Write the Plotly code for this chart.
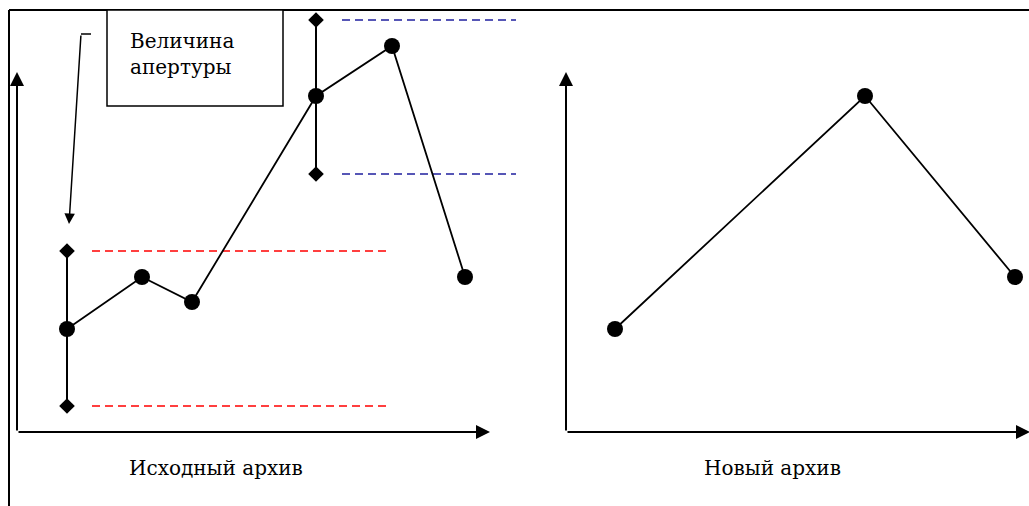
import plotly.graph_objects as go

# Schematic coordinates: x along the archive, y = signal value (up is larger)
src_x = [67, 142, 192, 316, 392, 465]
src_y = [177, 229, 204, 410, 460, 229]

new_x = [615, 865, 1015]
new_y = [177, 410, 229]

# aperture bounds around the points where the aperture is shown
ap_x = [67, 316]
ap_low = [100, 332]
ap_high = [255, 486]
ap_dash_from = [92, 342]
ap_dash_to = [390, 516]
ap_colors = ["#ff0000", "#1f1f9e"]

callout_text = "Величина<br>апертуры"
label_src = "Исходный архив"
label_new = "Новый архив"

W, H = 1029, 506
FONT = "DejaVu Serif"

fig = go.Figure()

# outer frame (top + left edges)
fig.add_shape(type="line", x0=9, x1=W, y0=496, y1=496, line={"color": "black", "width": 2})
fig.add_shape(type="line", x0=9, x1=9, y0=496, y1=0, line={"color": "black", "width": 2})

# callout box
fig.add_shape(type="rect", x0=107, x1=283, y0=400, y1=496,
              line={"color": "black", "width": 1.5}, fillcolor="white")

# aperture dashed bounds
for xa, lo, hi, x0, x1, col in zip(ap_x, ap_low, ap_high, ap_dash_from, ap_dash_to, ap_colors):
    for yv in (lo, hi):
        fig.add_trace(go.Scatter(
            x=[x0, x1], y=[yv, yv], mode="lines",
            line={"color": col, "width": 1.6, "dash": "8px,5px"},
            showlegend=False, hoverinfo="skip",
        ))
    fig.add_trace(go.Scatter(
        x=[xa, xa], y=[lo, hi], mode="lines+markers",
        line={"color": "black", "width": 2},
        marker={"symbol": "diamond", "size": 12, "color": "black"},
        showlegend=False, hoverinfo="skip",
    ))

# axes with arrows
axes = [
    # (x0, y0, x1, y1)
    (17, 74, 17, 434),
    (17, 74, 490, 74),
    (566, 74, 566, 434),
    (566, 74, 1030, 74),
]
for x0, y0, x1, y1 in axes:
    fig.add_annotation(
        x=x1, y=y1, ax=x0, ay=y0, xref="x", yref="y", axref="x", ayref="y",
        text="", showarrow=True, arrowhead=2, arrowsize=1.4, arrowwidth=2,
        arrowcolor="black",
    )

# series
for xs, ys in ((src_x, src_y), (new_x, new_y)):
    fig.add_trace(go.Scatter(
        x=xs, y=ys, mode="lines+markers",
        line={"color": "black", "width": 1.8},
        marker={"symbol": "circle", "size": 16, "color": "black"},
        showlegend=False, hoverinfo="skip",
    ))

# callout pointer
fig.add_shape(type="line", x0=91, x1=81, y0=472, y1=472, line={"color": "black", "width": 1.5})
fig.add_annotation(
    x=69, y=282, ax=81, ay=472, xref="x", yref="y", axref="x", ayref="y",
    text="", showarrow=True, arrowhead=2, arrowsize=1.4, arrowwidth=1.5,
    arrowcolor="black",
)

fig.add_annotation(x=128, y=452, text=callout_text, showarrow=False, xanchor="left",
                   yanchor="middle", align="left",
                   font={"family": FONT, "size": 20, "color": "black"})
fig.add_annotation(x=216, y=38, text=label_src, showarrow=False,
                   font={"family": FONT, "size": 20, "color": "black"})
fig.add_annotation(x=772, y=38, text=label_new, showarrow=False,
                   font={"family": FONT, "size": 20, "color": "black"})

fig.update_layout(
    width=W, height=H,
    margin={"l": 0, "r": 0, "t": 0, "b": 0},
    plot_bgcolor="white", paper_bgcolor="white",
    showlegend=False,
)
fig.update_xaxes(range=[0, W], visible=False, fixedrange=True)
fig.update_yaxes(range=[0, H], visible=False, fixedrange=True)

# the page body has an 8px default margin; drop it so the figure fills the window
fig.write_html(
    "out.html",
    config={"displayModeBar": False},
    post_script="document.body.style.margin = '0';",
)
